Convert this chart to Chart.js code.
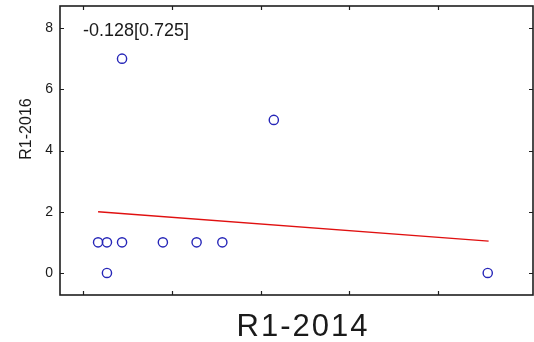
<!DOCTYPE html>
<html>
<head>
<meta charset="utf-8">
<script src="https://cdn.jsdelivr.net/npm/chart.js@4/dist/chart.umd.min.js"></script>
<style>
  html, body { margin: 0; padding: 0; background: #fff; }
  canvas { display: block; }
</style>
</head>
<body>
<canvas id="scatter" width="534" height="342"></canvas>
<script>
// R1-2014 (x) vs R1-2016 (y)
const r2014 = [0.17, 0.27, 0.27, 0.44, 0.44, 0.90, 1.28, 1.57, 2.15, 4.56];
const r2016 = [1, 1, 0, 1, 7, 1, 1, 1, 5, 0];

// least squares line as drawn in the picture (ends)
const fitX = [0.17, 4.57];
const fitY = [2.0, 1.04];

const xTicks = [0, 1, 2, 3, 4];
const yTicks = [0, 2, 4, 6, 8];

const corrLabel = '-0.128[0.725]';
const xTitle = 'R1-2014';
const yTitle = 'R1-2016';

const fontFamily = "'Liberation Sans', Arial, sans-serif";

function noPadding(scale) {
    scale.paddingTop = 0;
    scale.paddingBottom = 0;
    scale.paddingLeft = 0;
    scale.paddingRight = 0;
}

const framePlugin = {
    id: 'frame',
    afterDraw(chart) {
        const ctx = chart.ctx;
        const area = chart.chartArea;
        const xs = chart.scales.x;
        const ys = chart.scales.y;
        const tick = 4;

        ctx.save();
        ctx.strokeStyle = '#1e1e1e';
        ctx.lineWidth = 1.6;
        ctx.strokeRect(area.left, area.top, area.right - area.left, area.bottom - area.top);

        ctx.lineWidth = 1.2;
        ctx.beginPath();
        xTicks.forEach(v => {
            const px = Math.round(xs.getPixelForValue(v)) + 0.5;
            ctx.moveTo(px, area.bottom);
            ctx.lineTo(px, area.bottom - tick);
            ctx.moveTo(px, area.top);
            ctx.lineTo(px, area.top + tick);
        });
        yTicks.forEach(v => {
            const py = Math.round(ys.getPixelForValue(v)) + 0.5;
            ctx.moveTo(area.left, py);
            ctx.lineTo(area.left + tick, py);
            ctx.moveTo(area.right, py);
            ctx.lineTo(area.right - tick, py);
        });
        ctx.stroke();

        // correlation [p] label
        ctx.fillStyle = '#1a1a1a';
        ctx.font = '18px ' + fontFamily;
        ctx.textAlign = 'left';
        ctx.textBaseline = 'alphabetic';
        ctx.fillText(corrLabel, 83, 36);

        // x axis title
        ctx.font = '31px ' + fontFamily;
        ctx.letterSpacing = '2px';
        ctx.textAlign = 'center';
        ctx.fillText(xTitle, 303, 336);
        ctx.letterSpacing = '0px';

        // y axis title
        ctx.translate(31, 129);
        ctx.rotate(-Math.PI / 2);
        ctx.font = '16px ' + fontFamily;
        ctx.textAlign = 'center';
        ctx.textBaseline = 'alphabetic';
        ctx.fillText(yTitle, 0, 0);
        ctx.restore();
    }
};

new Chart(document.getElementById('scatter'), {
    type: 'scatter',
    data: {
        datasets: [
            {
                label: 'fit',
                type: 'line',
                data: fitX.map((x, i) => ({ x: x, y: fitY[i] })),
                borderColor: '#e01010',
                borderWidth: 1.4,
                pointRadius: 0,
                fill: false
            },
            {
                label: 'R1',
                data: r2014.map((x, i) => ({ x: x, y: r2016[i] })),
                pointStyle: 'circle',
                pointRadius: 4.6,
                pointBorderWidth: 1.4,
                pointBorderColor: '#2626b8',
                pointBackgroundColor: 'rgba(0,0,0,0)'
            }
        ]
    },
    options: {
        responsive: false,
        animation: false,
        events: [],
        layout: {
            autoPadding: false,
            padding: { top: 6, right: 1, left: 0, bottom: 0 }
        },
        plugins: {
            legend: { display: false },
            tooltip: { enabled: false }
        },
        scales: {
            x: {
                type: 'linear',
                min: -0.259,
                max: 5.07,
                grid: { display: false, drawTicks: false },
                border: { display: false },
                ticks: { display: false },
                afterBuildTicks: (scale) => {
                    scale.ticks = xTicks.map(v => ({ value: v }));
                },
                afterFit: (scale) => {
                    scale.height = 47;
                    noPadding(scale);
                }
            },
            y: {
                type: 'linear',
                min: -0.72,
                max: 8.72,
                grid: { display: false, drawTicks: false },
                border: { display: false },
                ticks: {
                    padding: 7,
                    color: '#1a1a1a',
                    font: { family: fontFamily, size: 14 }
                },
                afterBuildTicks: (scale) => {
                    scale.ticks = yTicks.map(v => ({ value: v }));
                },
                afterFit: (scale) => {
                    scale.width = 60;
                    noPadding(scale);
                }
            }
        }
    },
    plugins: [framePlugin]
});
</script>
</body>
</html>
